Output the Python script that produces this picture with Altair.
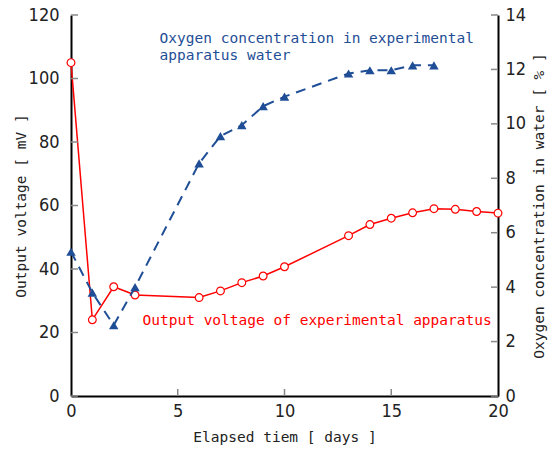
import altair as alt
import pandas as pd

# ---- data ----
volt_days = [0, 1, 2, 3, 6, 7, 8, 9, 10, 13, 14, 15, 16, 17, 18, 19, 20]
voltage = [105, 24, 34.4, 31.8, 31.0, 33.1, 35.7, 37.8, 40.7, 50.5, 54.0, 56.0, 57.7, 59.0, 58.8, 58.1, 57.6]
oxy_days = [0, 1, 2, 3, 6, 7, 8, 9, 10, 13, 14, 15, 16, 17]
oxygen = [5.3, 3.8, 2.6, 4.0, 8.55, 9.55, 9.95, 10.65, 11.0, 11.85, 11.97, 11.97, 12.15, 12.15]

x_ticks = [0, 5, 10, 15, 20]
left_ticks = [0, 20, 40, 60, 80, 100, 120]
right_ticks = [0, 2, 4, 6, 8, 10, 12, 14]

blue_label_lines = ["Oxygen concentration in experimental", "apparatus water"]
red_label = "Output voltage of experimental apparatus"

RED = "#ff0000"
BLUE = "#1f4e96"
W, H = 427, 381
MONO = "DejaVu Sans Mono"
NUM = "Liberation Sans Narrow, DejaVu Sans Condensed, Liberation Sans"

vdf = pd.DataFrame({"day": volt_days, "v": voltage})
odf = pd.DataFrame({"day": oxy_days, "o": oxygen})
ltdf = pd.DataFrame({"v": left_ticks})
rtdf = pd.DataFrame({"o": right_ticks})
xtdf = pd.DataFrame({"day": x_ticks[1:-1]})
blue_txt = pd.DataFrame({"day": [4.15, 4.15], "v": [112.3, 107.2], "label": blue_label_lines})
red_txt = pd.DataFrame({"day": [3.35], "v": [23.6], "label": [red_label]})

xs = alt.Scale(domain=[0, 20], nice=False)
ys_l = alt.Scale(domain=[0, 120], nice=False)
ys_r = alt.Scale(domain=[0, 14], nice=False)

x_axis = alt.Axis(values=x_ticks, title="Elapsed tiem [ days ]", ticks=False,
                  domainColor="black", domainWidth=2, grid=False,
                  labelFont=NUM, labelFontSize=18, labelColor="#222", labelPadding=6,
                  labelFlush=False,
                  titleFont=MONO, titleFontSize=14.5, titleFontWeight="normal", titleColor="#222",
                  titlePadding=10)
left_axis = alt.Axis(values=left_ticks, title="Output voltage [ mV ]", ticks=False,
                     domainColor="black", domainWidth=2, grid=False,
                     labelFont=NUM, labelFontSize=18, labelColor="#222", labelPadding=12,
                     titleFont=MONO, titleFontSize=14.5, titleFontWeight="normal", titleColor="#222",
                     titlePadding=0)
right_axis = alt.Axis(values=right_ticks, title="Oxygen concentration in water [ % ]", ticks=False,
                      orient="right",
                      domainColor="black", domainWidth=2, grid=False,
                      labelFont=NUM, labelFontSize=18, labelColor="#222", labelPadding=7,
                      titleFont=MONO, titleFontSize=14.5, titleFontWeight="normal", titleColor="#222",
                      titleAngle=270, titlePadding=21)

xenc = alt.X("day:Q", scale=xs, axis=x_axis)
yl = alt.Y("v:Q", scale=ys_l, axis=left_axis)
yr = alt.Y("o:Q", scale=ys_r, axis=right_axis)

red_line = alt.Chart(vdf).mark_line(color=RED, strokeWidth=1.5).encode(x=xenc, y=yl)
red_pts = alt.Chart(vdf).mark_point(shape="circle", filled=True, fill="white", stroke=RED,
                                    strokeWidth=1.2, size=60, opacity=1).encode(x=xenc, y=yl)
l_ticks = alt.Chart(ltdf).mark_rule(color="#888", strokeWidth=1.5).encode(
    x=alt.value(0), x2=alt.value(7), y=yl)
b_ticks = alt.Chart(xtdf).mark_rule(color="#888", strokeWidth=1.5).encode(
    x=xenc, y=alt.value(H - 7), y2=alt.value(H))
red_text = alt.Chart(red_txt).mark_text(align="left", baseline="middle", font=MONO,
                                        fontSize=14.5, color=RED).encode(
    x=xenc, y=yl, text="label:N")
blue_text = alt.Chart(blue_txt).mark_text(align="left", baseline="middle", font=MONO,
                                          fontSize=14.5, color=BLUE).encode(
    x=xenc, y=yl, text="label:N")

left_group = alt.layer(red_line, red_pts, l_ticks, b_ticks, red_text, blue_text)

blue_line = alt.Chart(odf).mark_line(color=BLUE, strokeWidth=2, strokeDash=[10, 7]).encode(
    x=xenc, y=yr)
blue_pts = alt.Chart(odf).mark_point(shape="triangle-up", filled=True, color=BLUE,
                                     size=90, opacity=1).encode(x=xenc, y=yr)
r_ticks = alt.Chart(rtdf).mark_rule(color="#888", strokeWidth=1.5).encode(
    x=alt.value(W - 7), x2=alt.value(W), y=yr)

right_group = alt.layer(blue_line, r_ticks, blue_pts)

chart = alt.layer(left_group, right_group).resolve_scale(y="independent").properties(
    width=W, height=H,
    autosize=alt.AutoSizeParams(type="none"),
    padding={"left": 71, "top": 15, "right": 54, "bottom": 54},
    background="white",
).configure_view(stroke=None)

chart.save("out.html", embed_options={"renderer": "svg", "actions": False})
